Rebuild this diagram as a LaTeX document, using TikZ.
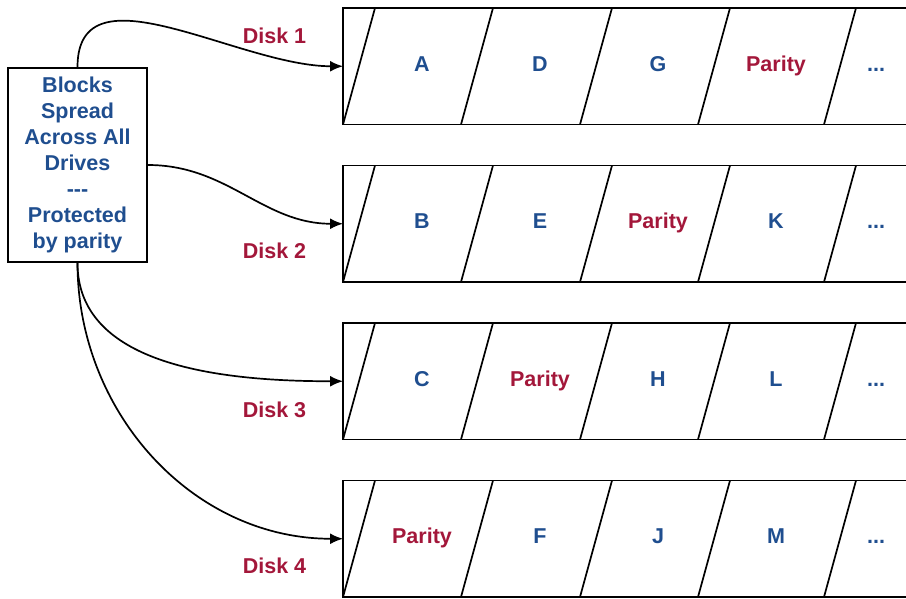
\documentclass[tikz,border=0pt]{standalone}
\usepackage{fontspec}
\setmainfont{Liberation Sans}
\usetikzlibrary{arrows.meta}
\definecolor{blockblue}{HTML}{1F4E8F}
\definecolor{diskred}{HTML}{A3173A}

\begin{document}
\begin{tikzpicture}[
    x=1pt,y=-1pt,
    font=\bfseries\fontsize{21.5}{26}\selectfont,
    infobox/.style={draw,line width=1.8pt,align=center,text=blockblue,
        minimum width=139pt,minimum height=194pt,inner sep=0pt},
    blocktxt/.style={anchor=base,text=blockblue,inner sep=0pt},
    paritytxt/.style={anchor=base,text=diskred,inner sep=0pt},
    disklbl/.style={anchor=base,text=diskred,inner sep=0pt},
    feed/.style={-{Latex[length=13pt,width=11pt]},line width=1.7pt},
  ]
  \useasboundingbox (0,0) rectangle (906,598);

  \def\dskL{343}       % left edge of every disk
  \def\dskR{906}       % disks run off the right edge
  \def\dskH{116.5}     % disk height
  \def\dskP{157.5}     % disk pitch

  % ============================================================= SOURCE
  \node[infobox] (spread) at (77.5,165)
    {Blocks\\Spread\\Across All\\Drives\\-\kern0pt-\kern0pt-\\Protected\\by parity};

  % ============================================================= DISKS
  % #1 disk  #2 label offset  #3 cells (text/style)
  \foreach \i/\lo/\cells in {
      1/-23/{A/blocktxt,D/blocktxt,G/blocktxt,Parity/paritytxt},
      2/35/{B/blocktxt,E/blocktxt,Parity/paritytxt,K/blocktxt},
      3/36/{C/blocktxt,Parity/paritytxt,H/blocktxt,L/blocktxt},
      4/35/{Parity/paritytxt,F/blocktxt,J/blocktxt,M/blocktxt}}{
    \pgfmathsetmacro\yt{8+(\i-1)*\dskP}
    \pgfmathsetmacro\yb{\yt+\dskH}
    \pgfmathsetmacro\ym{\yt+\dskH/2}

    % --- open-ended strip ---
    \draw[line width=1.8pt] (\dskR,\yt) -- (\dskL,\yt) -- (\dskL,\yb) -- (\dskR,\yb);
    \coordinate (disk\i) at (\dskL,\ym);

    % --- slanted block borders ---
    \foreach \sx in {375,493,612,730,856}{
      \draw[line width=1.7pt] (\sx,\yt) -- (\sx-32,\yb);
    }

    % --- block contents ---
    \foreach \t/\s [count=\k] in \cells{
      \node[\s] (blk\i\k) at ({422+(\k-1)*118},\ym+5) {\t};
    }
    \node[blocktxt] (more\i) at (876,\ym+5) {...};

    \node[disklbl] (lbl\i) at (274.5,\ym+\lo) {Disk \i};
  }

  % ============================================================= ARROWS
  \draw[feed] (spread.north) .. controls +(0,-104) and +(-104,0) .. (disk1);
  \draw[feed] (spread.east) .. controls +(80,0) and +(-80,0) .. (disk2);
  \draw[feed] (spread.south) .. controls +(0,100) and +(-130,0) .. (disk3);
  \draw[feed] (spread.south) .. controls +(0,150) and +(-150,0) .. (disk4);

\end{tikzpicture}
\end{document}
